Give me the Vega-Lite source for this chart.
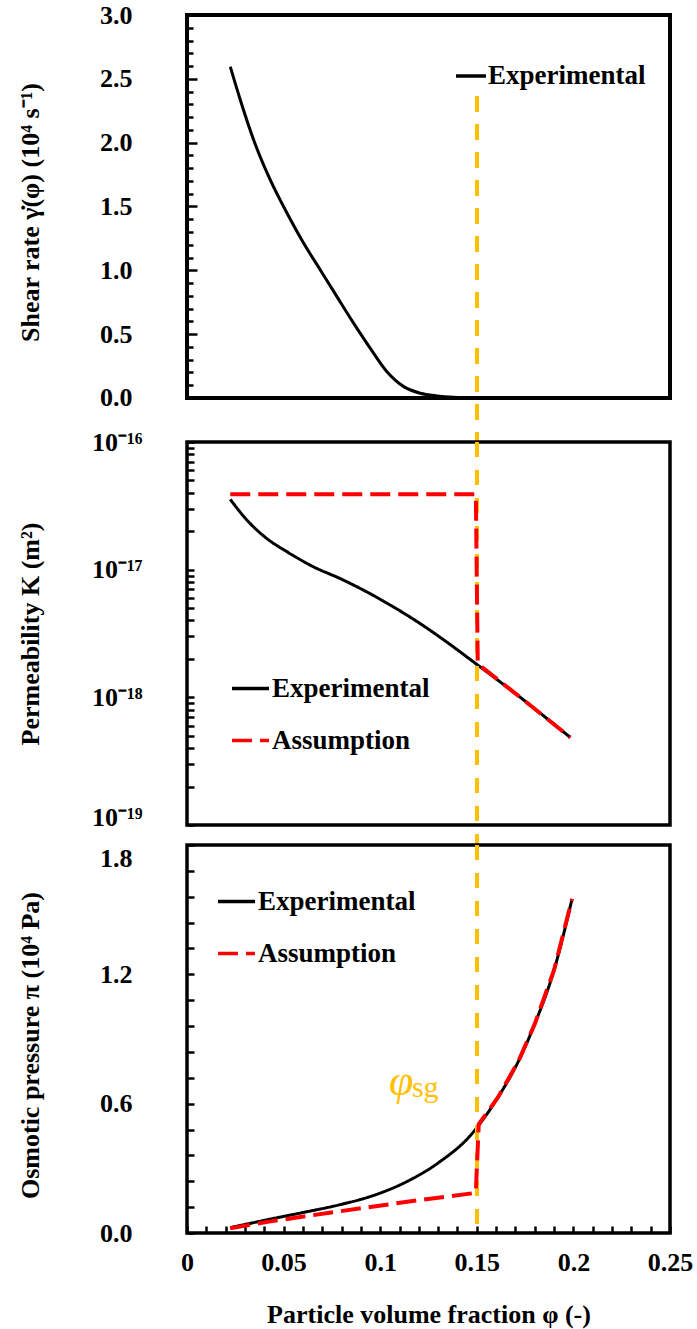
{
  "$schema": "https://vega.github.io/schema/vega-lite/v6.json",
  "padding": {"left": 15, "top": 2, "right": 0, "bottom": 0},
  "bounds": "flush",
  "spacing": 20,
  "config": {
    "view": {"stroke": "black", "strokeWidth": 3.5},
    "font": "Liberation Serif",
    "axis": {"domain": false, "grid": false, "labelFont": "Liberation Serif", "labelFontWeight": "bold", "labelFontSize": 26, "labelColor": "black", "tickColor": "black", "tickWidth": 2.5, "tickSize": -7, "tickCount": 200, "titleFont": "Liberation Serif", "titleFontWeight": "bold", "titleFontSize": 26, "titleColor": "black", "labelOverlap": false, "labelFlush": false, "labelBound": false},
    "legend": {"labelFont": "Liberation Serif", "labelFontWeight": "bold", "labelFontSize": 27, "labelColor": "black", "symbolType": "stroke", "symbolStrokeWidth": 3.5, "labelOffset": 1, "rowPadding": 18, "padding": 0}
  },
  "datasets": {
    "shear": [
      {"phi": 0.0224, "val": 2.595, "series": "Experimental"},
      {"phi": 0.0276, "val": 2.334, "series": "Experimental"},
      {"phi": 0.0345, "val": 2.021, "series": "Experimental"},
      {"phi": 0.0431, "val": 1.708, "series": "Experimental"},
      {"phi": 0.0518, "val": 1.447, "series": "Experimental"},
      {"phi": 0.0604, "val": 1.212, "series": "Experimental"},
      {"phi": 0.069, "val": 1.003, "series": "Experimental"},
      {"phi": 0.0776, "val": 0.794, "series": "Experimental"},
      {"phi": 0.0863, "val": 0.585, "series": "Experimental"},
      {"phi": 0.0949, "val": 0.389, "series": "Experimental"},
      {"phi": 0.1035, "val": 0.206, "series": "Experimental"},
      {"phi": 0.1122, "val": 0.089, "series": "Experimental"},
      {"phi": 0.1208, "val": 0.037, "series": "Experimental"},
      {"phi": 0.1294, "val": 0.016, "series": "Experimental"},
      {"phi": 0.138, "val": 0.005, "series": "Experimental"},
      {"phi": 0.15, "val": 0.0, "series": "Experimental"}
    ],
    "perm": [
      {"phi": 0.0224, "val": 3.55e-17, "series": "Experimental"},
      {"phi": 0.0311, "val": 2.44e-17, "series": "Experimental"},
      {"phi": 0.0414, "val": 1.75e-17, "series": "Experimental"},
      {"phi": 0.0518, "val": 1.38e-17, "series": "Experimental"},
      {"phi": 0.0656, "val": 1.05e-17, "series": "Experimental"},
      {"phi": 0.0794, "val": 8.5e-18, "series": "Experimental"},
      {"phi": 0.0932, "val": 6.68e-18, "series": "Experimental"},
      {"phi": 0.107, "val": 5.09e-18, "series": "Experimental"},
      {"phi": 0.1208, "val": 3.77e-18, "series": "Experimental"},
      {"phi": 0.1346, "val": 2.7e-18, "series": "Experimental"},
      {"phi": 0.1492, "val": 1.85e-18, "series": "Experimental"},
      {"phi": 0.1725, "val": 1.0e-18, "series": "Experimental"},
      {"phi": 0.1984, "val": 4.85e-19, "series": "Experimental"},
      {"phi": 0.0224, "val": 3.9e-17, "series": "Assumption"},
      {"phi": 0.1495, "val": 3.9e-17, "series": "Assumption"},
      {"phi": 0.1505, "val": 1.83e-18, "series": "Assumption"},
      {"phi": 0.1725, "val": 1.0e-18, "series": "Assumption"},
      {"phi": 0.1984, "val": 4.85e-19, "series": "Assumption"}
    ],
    "osm": [
      {"phi": 0.0224, "val": 0.025, "series": "Experimental"},
      {"phi": 0.044, "val": 0.066, "series": "Experimental"},
      {"phi": 0.06, "val": 0.095, "series": "Experimental"},
      {"phi": 0.0785, "val": 0.13, "series": "Experimental"},
      {"phi": 0.0958, "val": 0.172, "series": "Experimental"},
      {"phi": 0.113, "val": 0.235, "series": "Experimental"},
      {"phi": 0.13, "val": 0.325, "series": "Experimental"},
      {"phi": 0.1475, "val": 0.461, "series": "Experimental"},
      {"phi": 0.151, "val": 0.5, "series": "Experimental"},
      {"phi": 0.161, "val": 0.63, "series": "Experimental"},
      {"phi": 0.1717, "val": 0.8, "series": "Experimental"},
      {"phi": 0.18, "val": 0.97, "series": "Experimental"},
      {"phi": 0.19, "val": 1.22, "series": "Experimental"},
      {"phi": 0.1993, "val": 1.55, "series": "Experimental"},
      {"phi": 0.0224, "val": 0.022, "series": "Assumption"},
      {"phi": 0.044, "val": 0.055, "series": "Assumption"},
      {"phi": 0.0785, "val": 0.1, "series": "Assumption"},
      {"phi": 0.0958, "val": 0.122, "series": "Assumption"},
      {"phi": 0.12, "val": 0.152, "series": "Assumption"},
      {"phi": 0.1475, "val": 0.184, "series": "Assumption"},
      {"phi": 0.1495, "val": 0.19, "series": "Assumption"},
      {"phi": 0.151, "val": 0.505, "series": "Assumption"},
      {"phi": 0.161, "val": 0.63, "series": "Assumption"},
      {"phi": 0.1717, "val": 0.8, "series": "Assumption"},
      {"phi": 0.18, "val": 0.97, "series": "Assumption"},
      {"phi": 0.19, "val": 1.22, "series": "Assumption"},
      {"phi": 0.1993, "val": 1.55, "series": "Assumption"}
    ],
    "labels": [
      {"phi": 0.1045, "val": 0.638, "text": "φ"},
      {"phi": 0.1164, "val": 0.63, "text": "sg"}
    ]
  },
  "resolve": {"scale": {"color": "independent", "strokeDash": "independent"}, "legend": {"color": "independent", "strokeDash": "independent"}},
  "vconcat": [
    {
      "width": 483, "height": 407,
      "view": {"stroke": null},
      "data": {"name": "shear"},
      "layer": [
        {
          "mark": {"type": "line", "interpolate": "monotone", "strokeWidth": 3},
          "encoding": {
            "x": {"field": "phi", "type": "quantitative", "scale": {"domain": [0, 0.25], "nice": false, "zero": false}, "axis": null},
            "y": {"field": "val", "type": "quantitative", "scale": {"domain": [-0.188, 3], "nice": false, "zero": false},
              "axis": {"values": [0,0.1,0.2,0.3,0.4,0.5,0.6,0.7,0.8,0.9,1,1.1,1.2,1.3,1.4,1.5,1.6,1.7,1.8,1.9,2,2.1,2.2,2.3,2.4,2.5,2.6,2.7,2.8,2.9,3],
                "labelExpr": "abs(datum.value*2 - round(datum.value*2)) < 0.001 ? format(datum.value, '.1f') : ''",
                "tickSize": {"condition": {"test": "abs(datum.value*2 - round(datum.value*2)) < 0.001", "value": -10}, "value": -6},
                "labelPadding": 65, "title": "Shear rate γ̇(φ) (10⁴ s⁻¹)", "titleAngle": -90, "titleX": -157, "titleY": 197, "titleAlign": "center", "titleBaseline": "middle"}},
            "color": {"field": "series", "type": "nominal", "scale": {"domain": ["Experimental"], "range": ["black"]},
              "legend": {"title": null, "orient": "none", "legendX": 267, "legendY": 44, "symbolSize": 900, "labelOffset": 0}}
          }
        },
        {
          "mark": {"type": "rect", "fillOpacity": 0, "stroke": "black", "strokeWidth": 3.5},
          "encoding": {
            "x": {"datum": 0, "type": "quantitative"},
            "x2": {"datum": 0.25},
            "y": {"datum": 0, "type": "quantitative"},
            "y2": {"datum": 3}
          }
        },
        {
          "mark": {"type": "rule", "color": "#FFC000", "strokeWidth": 3.5, "strokeDash": [15, 13]},
          "encoding": {
            "x": {"datum": 0.15, "type": "quantitative"},
            "y": {"datum": 2.36, "type": "quantitative"},
            "y2": {"datum": -0.345}
          }
        }
      ]
    },
    {
      "width": 483, "height": 383,
      "data": {"name": "perm"},
      "layer": [
        {
          "transform": [{"filter": "datum.series == 'Experimental'"}],
          "mark": {"type": "line", "interpolate": "monotone", "strokeWidth": 3},
          "encoding": {
            "x": {"field": "phi", "type": "quantitative", "scale": {"domain": [0, 0.25], "nice": false, "zero": false}, "axis": null},
            "y": {"field": "val", "type": "quantitative", "scale": {"type": "log", "domain": [1e-19, 1e-16], "nice": false},
              "axis": {"values": [1e-19,2e-19,3e-19,4e-19,5e-19,6e-19,7e-19,8e-19,9e-19,1e-18,2e-18,3e-18,4e-18,5e-18,6e-18,7e-18,8e-18,9e-18,1e-17,2e-17,3e-17,4e-17,5e-17,6e-17,7e-17,8e-17,9e-17,1e-16],
                "labelExpr": "abs(log(datum.value)/LN10 + 16) < 0.01 ? '10⁻¹⁶' : abs(log(datum.value)/LN10 + 17) < 0.01 ? '10⁻¹⁷' : abs(log(datum.value)/LN10 + 18) < 0.01 ? '10⁻¹⁸' : abs(log(datum.value)/LN10 + 19) < 0.01 ? '10⁻¹⁹' : ''",
                "labelBaseline": {"condition": {"test": "datum.value < 2e-19", "value": "alphabetic"}, "value": "middle"},
                "labelPadding": 52, "title": "Permeability K (m²)", "titleAngle": -90, "titleX": -157, "titleY": 191.5, "titleAlign": "center", "titleBaseline": "middle"}},
            "color": {"field": "series", "type": "nominal", "scale": {"domain": ["Experimental", "Assumption"], "range": ["black", "red"]},
              "legend": {"title": null, "orient": "none", "legendX": 43, "legendY": 226, "symbolSize": 1369}},
            "strokeDash": {"field": "series", "type": "nominal", "scale": {"domain": ["Experimental", "Assumption"], "range": [[1, 0], [20, 8]]},
              "legend": {"title": null, "orient": "none", "legendX": 43, "legendY": 226, "symbolSize": 1369}}
          }
        },
        {
          "mark": {"type": "rule", "color": "#FFC000", "strokeWidth": 3.5, "strokeDash": [15, 13]},
          "encoding": {
            "x": {"datum": 0.15, "type": "quantitative"},
            "y": {"datum": 1e-16, "type": "quantitative"},
            "y2": {"datum": 6.97e-20}
          }
        },
        {
          "transform": [{"filter": "datum.series == 'Assumption'"}],
          "mark": {"type": "line", "strokeWidth": 4},
          "encoding": {
            "x": {"field": "phi", "type": "quantitative"},
            "y": {"field": "val", "type": "quantitative"},
            "color": {"field": "series", "type": "nominal"},
            "strokeDash": {"field": "series", "type": "nominal"}
          }
        }
      ]
    },
    {
      "width": 483, "height": 388,
      "data": {"name": "osm"},
      "layer": [
        {
          "transform": [{"filter": "datum.series == 'Experimental'"}],
          "mark": {"type": "line", "interpolate": "monotone", "strokeWidth": 3},
          "encoding": {
            "x": {"field": "phi", "type": "quantitative", "scale": {"domain": [0, 0.25], "nice": false, "zero": false},
              "axis": {"values": [0,0.01,0.02,0.03,0.04,0.05,0.06,0.07,0.08,0.09,0.1,0.11,0.12,0.13,0.14,0.15,0.16,0.17,0.18,0.19,0.2,0.21,0.22,0.23,0.24,0.25],
                "labelExpr": "abs(datum.value*20 - round(datum.value*20)) < 0.001 ? format(datum.value, '~g') : ''",
                "labelPadding": 23, "title": "Particle volume fraction φ (-)", "titleFontSize": 26, "titleY": 81, "titleBaseline": "middle"}},
            "y": {"field": "val", "type": "quantitative", "scale": {"domain": [0, 1.8], "nice": false},
              "axis": {"values": [0,0.12,0.24,0.36,0.48,0.6,0.72,0.84,0.96,1.08,1.2,1.32,1.44,1.56,1.68,1.8],
                "labelExpr": "abs(datum.value/0.6 - round(datum.value/0.6)) < 0.001 ? format(datum.value, '.1f') : ''",
                "labelBaseline": {"condition": {"test": "datum.value > 1.79", "value": "top"}, "value": "middle"},
                "labelPadding": 62, "title": "Osmotic pressure π (10⁴ Pa)", "titleAngle": -90, "titleX": -157, "titleY": 200, "titleAlign": "center", "titleBaseline": "middle"}},
            "color": {"field": "series", "type": "nominal", "scale": {"domain": ["Experimental", "Assumption"], "range": ["black", "red"]},
              "legend": {"title": null, "orient": "none", "legendX": 29, "legendY": 36, "symbolSize": 1369}},
            "strokeDash": {"field": "series", "type": "nominal", "scale": {"domain": ["Experimental", "Assumption"], "range": [[1, 0], [20, 8]]},
              "legend": {"title": null, "orient": "none", "legendX": 29, "legendY": 36, "symbolSize": 1369}}
          }
        },
        {
          "mark": {"type": "rule", "color": "#FFC000", "strokeWidth": 3.5, "strokeDash": [15, 13]},
          "encoding": {
            "x": {"datum": 0.15, "type": "quantitative"},
            "y": {"datum": 1.8, "type": "quantitative"},
            "y2": {"datum": 0.018}
          }
        },
        {
          "transform": [{"filter": "datum.series == 'Assumption'"}],
          "mark": {"type": "line", "strokeWidth": 4},
          "encoding": {
            "x": {"field": "phi", "type": "quantitative"},
            "y": {"field": "val", "type": "quantitative"},
            "color": {"field": "series", "type": "nominal"},
            "strokeDash": {"field": "series", "type": "nominal"}
          }
        },
        {
          "data": {"name": "labels"},
          "transform": [{"filter": "datum.text == 'φ'"}],
          "mark": {"type": "text", "align": "left", "baseline": "alphabetic", "font": "Liberation Serif", "fontStyle": "italic", "fontSize": 44, "color": "#FFC000"},
          "encoding": {
            "x": {"field": "phi", "type": "quantitative"},
            "y": {"field": "val", "type": "quantitative"},
            "text": {"field": "text"}
          }
        },
        {
          "data": {"name": "labels"},
          "transform": [{"filter": "datum.text == 'sg'"}],
          "mark": {"type": "text", "align": "left", "baseline": "alphabetic", "font": "Liberation Serif", "fontSize": 30, "color": "#FFC000"},
          "encoding": {
            "x": {"field": "phi", "type": "quantitative"},
            "y": {"field": "val", "type": "quantitative"},
            "text": {"field": "text"}
          }
        }
      ]
    }
  ]
}
